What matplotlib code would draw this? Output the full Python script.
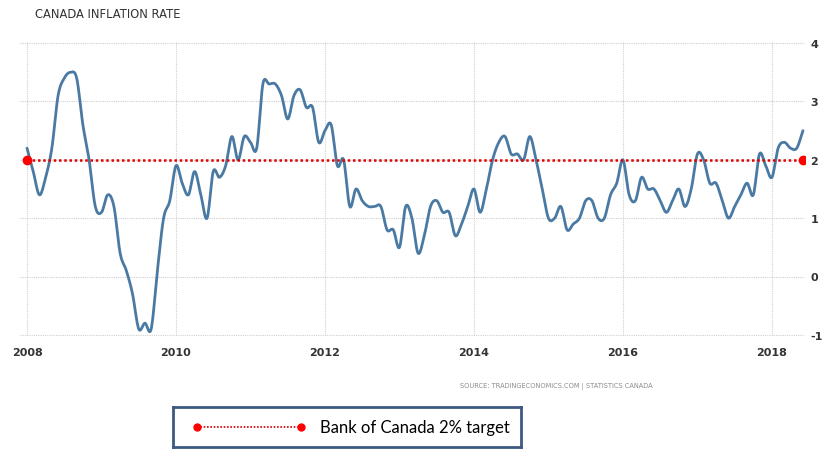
import numpy as np
import matplotlib
matplotlib.use("Agg")
import matplotlib.pyplot as plt

plt.rcParams["axes.unicode_minus"] = False

# monthly CPI y/y %, Jan 2008 .. Jun 2018
start_year = 2008
inflation = [
    2.2, 1.8, 1.4, 1.7, 2.2, 3.1, 3.4, 3.5, 3.4, 2.6, 2.0, 1.2,   # 2008
    1.1, 1.4, 1.2, 0.4, 0.1, -0.3, -0.9, -0.8, -0.9, 0.1, 1.0, 1.3,  # 2009
    1.9, 1.6, 1.4, 1.8, 1.4, 1.0, 1.8, 1.7, 1.9, 2.4, 2.0, 2.4,   # 2010
    2.3, 2.2, 3.3, 3.3, 3.3, 3.1, 2.7, 3.1, 3.2, 2.9, 2.9, 2.3,   # 2011
    2.5, 2.6, 1.9, 2.0, 1.2, 1.5, 1.3, 1.2, 1.2, 1.2, 0.8, 0.8,   # 2012
    0.5, 1.2, 1.0, 0.4, 0.7, 1.2, 1.3, 1.1, 1.1, 0.7, 0.9, 1.2,   # 2013
    1.5, 1.1, 1.5, 2.0, 2.3, 2.4, 2.1, 2.1, 2.0, 2.4, 2.0, 1.5,   # 2014
    1.0, 1.0, 1.2, 0.8, 0.9, 1.0, 1.3, 1.3, 1.0, 1.0, 1.4, 1.6,   # 2015
    2.0, 1.4, 1.3, 1.7, 1.5, 1.5, 1.3, 1.1, 1.3, 1.5, 1.2, 1.5,   # 2016
    2.1, 2.0, 1.6, 1.6, 1.3, 1.0, 1.2, 1.4, 1.6, 1.4, 2.1, 1.9,   # 2017
    1.7, 2.2, 2.3, 2.2, 2.2, 2.5,                                 # 2018
]
target = 2.0
year_ticks = [2008, 2010, 2012, 2014, 2016, 2018]
y_ticks = [-1, 0, 1, 2, 3, 4]

title = "CANADA INFLATION RATE"
source = "SOURCE: TRADINGECONOMICS.COM | STATISTICS CANADA"
legend_label = "Bank of Canada 2% target"


def catmull_rom(x, y, n=12):
    # smooth curve through every point, like the site's spline
    x = np.asarray(x, float)
    y = np.asarray(y, float)
    px = np.concatenate([[2 * x[0] - x[1]], x, [2 * x[-1] - x[-2]]])
    py = np.concatenate([[2 * y[0] - y[1]], y, [2 * y[-1] - y[-2]]])
    t = np.linspace(0, 1, n, endpoint=False)
    xs, ys = [], []
    for i in range(1, len(px) - 2):
        for p, out in ((px, xs), (py, ys)):
            p0, p1, p2, p3 = p[i - 1], p[i], p[i + 1], p[i + 2]
            out.append(0.5 * (2 * p1 + (-p0 + p2) * t
                              + (2 * p0 - 5 * p1 + 4 * p2 - p3) * t ** 2
                              + (-p0 + 3 * p1 - 3 * p2 + p3) * t ** 3))
    xs.append([x[-1]])
    ys.append([y[-1]])
    return np.concatenate(xs), np.concatenate(ys)


dates = start_year + np.arange(len(inflation)) / 12.0
sx, sy = catmull_rom(dates, inflation)

W, H = 834, 456
fig = plt.figure(figsize=(W / 100, H / 100), dpi=100)
fig.patch.set_facecolor("white")

ax = fig.add_axes([20 / W, 1 - 337 / H, 785 / W, 294 / H])
ax.plot(sx, sy, color="#4a7aa3", lw=2.0, solid_capstyle="round", zorder=3)
ax.plot([dates[0], dates[-1]], [target, target], color="#e00000", lw=1.8,
        ls=(0, (1, 1.1)), zorder=4)
ax.plot([dates[0], dates[-1]], [target, target], "o", color="#ff0000",
        ms=6, zorder=5)

ax.set_xlim(start_year - 7 / 74.3, 2018 + 33 / 74.3)
ax.set_ylim(-1.02, 4.02)
ax.set_xticks(year_ticks)
ax.set_yticks(y_ticks)
ax.yaxis.tick_right()
ax.tick_params(length=0, labelsize=8, labelcolor="#333333")
ax.tick_params(axis="x", pad=8)
ax.tick_params(axis="y", pad=4)
for lab in ax.get_xticklabels() + ax.get_yticklabels():
    lab.set_fontweight("bold")
ax.grid(True, color="#cfcfcf", ls=(0, (1, 1)), lw=0.8)
for s in ax.spines.values():
    s.set_visible(False)

fig.text(35 / W, 1 - 15 / H, title, fontsize=8.3, color="#333333",
         va="center", ha="left")
fig.text(653 / W, 1 - 387 / H, source, fontsize=4.8, color="#8c8c8c",
         va="center", ha="right")

# hand-made legend box below the chart
lax = fig.add_axes([173 / W, 1 - 448 / H, 348 / W, 40 / H])
lax.set_xlim(0, 1)
lax.set_ylim(0, 1)
lax.set_xticks([])
lax.set_yticks([])
for s in lax.spines.values():
    s.set_color("#3e5a82")
    s.set_linewidth(2)
lax.plot([0.069, 0.368], [0.5, 0.5], color="#d00000", lw=1.2, ls=(0, (1, 1)))
lax.plot([0.069, 0.368], [0.5, 0.5], "o", color="#ff0000", ms=5)
lax.text(0.422, 0.5, legend_label, fontsize=12, family="Lato",
         va="center", ha="left", color="black")

fig.savefig("out.png", dpi=100)
